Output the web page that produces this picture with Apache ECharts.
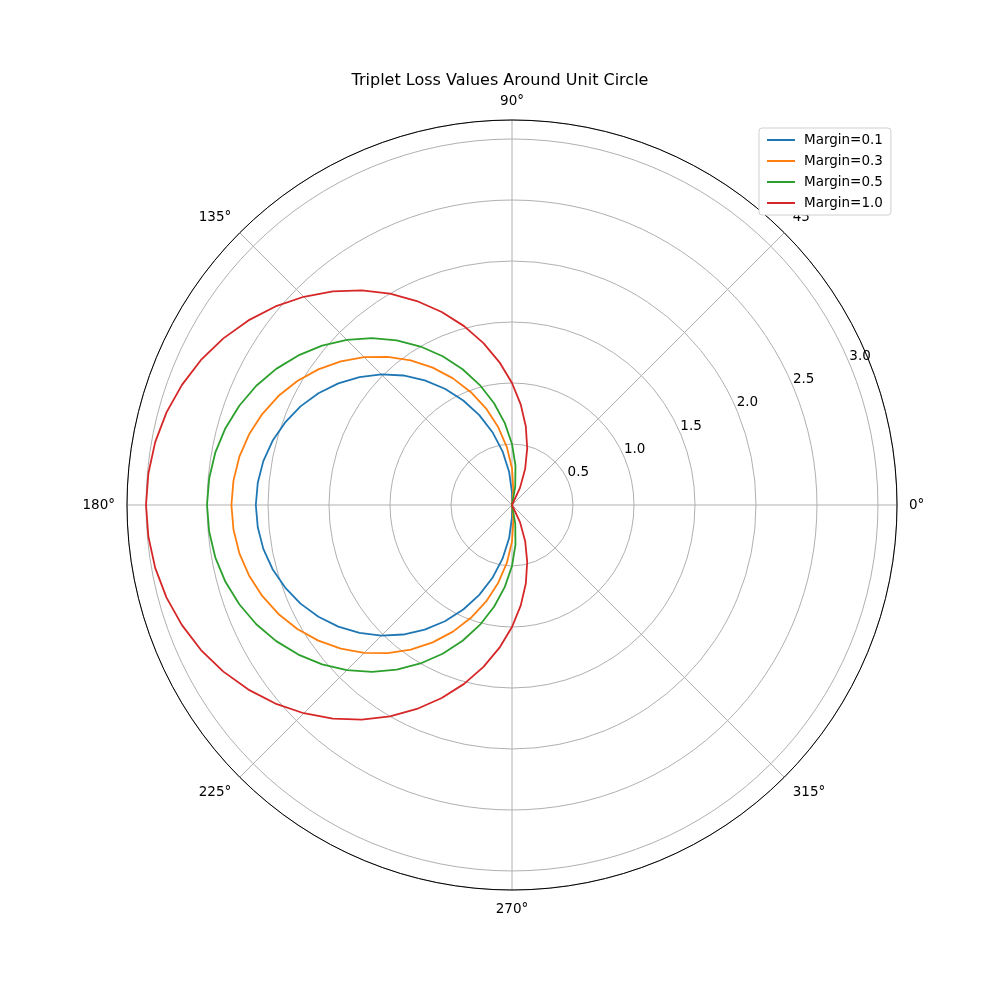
<!DOCTYPE html>
<html><head><meta charset="utf-8">
<script src="https://cdn.jsdelivr.net/npm/echarts@6/dist/echarts.min.js"></script>
<style>html,body{margin:0;padding:0;background:#fff}#c{width:1000px;height:1000px}</style>
</head><body><div id="c"></div>
<script>
const angles = [0,5,10,15,20,25,30,35,40,45,50,55,60,65,70,75,80,85,90,95,100,105,110,115,120,125,130,135,140,145,150,155,160,165,170,175,180,185,190,195,200,205,210,215,220,225,230,235,240,245,250,255,260,265,270,275,280,285,290,295,300,305,310,315,320,325,330,335,340,345,350,355,360];
const margin01 = [0,0,0,0,0,0,0,0,0,0,0,0,0,0,0,0,0,0,0.1,0.274,0.447,0.618,0.784,0.945,1.1,1.247,1.386,1.514,1.632,1.738,1.832,1.913,1.979,2.032,2.07,2.092,2.1,2.092,2.07,2.032,1.979,1.913,1.832,1.738,1.632,1.514,1.386,1.247,1.1,0.945,0.784,0.618,0.447,0.274,0.1,0,0,0,0,0,0,0,0,0,0,0,0,0,0,0,0,0,0];
const margin03 = [0,0,0,0,0,0,0,0,0,0,0,0,0,0,0,0,0,0.126,0.3,0.474,0.647,0.818,0.984,1.145,1.3,1.447,1.586,1.714,1.832,1.938,2.032,2.113,2.179,2.232,2.27,2.292,2.3,2.292,2.27,2.232,2.179,2.113,2.032,1.938,1.832,1.714,1.586,1.447,1.3,1.145,0.984,0.818,0.647,0.474,0.3,0.126,0,0,0,0,0,0,0,0,0,0,0,0,0,0,0,0,0];
const margin05 = [0,0,0,0,0,0,0,0,0,0,0,0,0,0,0,0,0.153,0.326,0.5,0.674,0.847,1.018,1.184,1.345,1.5,1.647,1.786,1.914,2.032,2.138,2.232,2.313,2.379,2.432,2.47,2.492,2.5,2.492,2.47,2.432,2.379,2.313,2.232,2.138,2.032,1.914,1.786,1.647,1.5,1.345,1.184,1.018,0.847,0.674,0.5,0.326,0.153,0,0,0,0,0,0,0,0,0,0,0,0,0,0,0,0];
const margin10 = [0,0,0,0,0,0,0,0,0,0,0,0,0,0.155,0.316,0.482,0.653,0.826,1.0,1.174,1.347,1.518,1.684,1.845,2.0,2.147,2.286,2.414,2.532,2.638,2.732,2.813,2.879,2.932,2.97,2.992,3.0,2.992,2.97,2.932,2.879,2.813,2.732,2.638,2.532,2.414,2.286,2.147,2.0,1.845,1.684,1.518,1.347,1.174,1.0,0.826,0.653,0.482,0.316,0.155,0,0,0,0,0,0,0,0,0,0,0,0,0];
const seriesNames = ['Margin=0.1','Margin=0.3','Margin=0.5','Margin=1.0'];
const seriesValues = [margin01, margin03, margin05, margin10];
const colors = ['#1f77b4','#ff7f0e','#2ca02c','#d62728'];
const angleTickLabels = ['0°','45°','90°','135°','180°','225°','270°','315°'];
const radiusTickLabels = ['0.5','1.0','1.5','2.0','2.5','3.0'];
const titleText = 'Triplet Loss Values Around Unit Circle';

const FONT = 'DejaVu Sans';
const chart = echarts.init(document.getElementById('c'), null, {renderer:'canvas'});
const series = seriesValues.map((vals, i) => ({
  name: seriesNames[i],
  type: 'line',
  coordinateSystem: 'polar',
  polarIndex: 0,
  showSymbol: false,
  symbol: 'none',
  animation: false,
  lineStyle: {color: colors[i], width: 1.8},
  itemStyle: {color: colors[i]},
  data: vals.map((v, k) => [v, angles[k]])
}));
const RMAX = 3.156;
chart.setOption({
  backgroundColor: '#fff',
  animation: false,
  title: {text: titleText, left: 'center', top: 68, textStyle: {fontFamily: FONT, fontSize: 16, fontWeight: 'normal', color: '#000'}},
  legend: {
    orient: 'vertical', left: 759, top: 128,
    padding: [4, 8, 4, 8], itemGap: 5,
    itemWidth: 28, itemHeight: 2, icon: 'rect',
    borderColor: '#d0d0d0', borderWidth: 1, borderRadius: 3, backgroundColor: '#fff',
    textStyle: {fontFamily: FONT, fontSize: 13.5, color: '#000', lineHeight: 16, padding: [0,0,0,4]},
    data: seriesNames
  },
  polar: [
    {center: [512, 505], radius: 385},
    {center: [512, 505], radius: 385}
  ],
  angleAxis: [
    {polarIndex: 0, type: 'value', min: 0, max: 360, interval: 45, startAngle: 0, clockwise: false,
     axisLine: {show: true, lineStyle: {color: '#000', width: 1}},
     axisTick: {show: false},
     axisLabel: {show: true, margin: 12, align: 'center', verticalAlign: 'middle', fontFamily: FONT, fontSize: 13.5, color: '#000',
       formatter: v => { const i = Math.round(v / 45); return (v < 360 && Math.abs(v - i*45) < 1e-6) ? angleTickLabels[i] : ''; }},
     splitLine: {show: true, lineStyle: {color: '#b0b0b0', width: 1}}},
    {polarIndex: 1, type: 'value', min: 0, max: 360, startAngle: 22.5, clockwise: false,
     axisLine: {show: false}, axisTick: {show: false}, axisLabel: {show: false}, splitLine: {show: false}}
  ],
  radiusAxis: [
    {polarIndex: 0, type: 'value', min: 0, max: RMAX, interval: 0.5,
     axisLine: {show: false}, axisTick: {show: false}, axisLabel: {show: false},
     splitLine: {show: true, lineStyle: {color: '#b0b0b0', width: 1}}},
    {polarIndex: 1, type: 'value', min: 0, max: RMAX, interval: 0.5,
     axisLine: {show: false}, axisTick: {show: false}, splitLine: {show: false},
     axisLabel: {show: true, margin: 2, fontFamily: FONT, fontSize: 13.5, color: '#000', align: 'left', verticalAlign: 'bottom',
       formatter: v => { const i = Math.round(v / 0.5) - 1; return (i >= 0 && Math.abs(v - (i+1)*0.5) < 1e-6 && i < radiusTickLabels.length) ? radiusTickLabels[i] : ''; }}}
  ],
  series: series
});
</script></body></html>
